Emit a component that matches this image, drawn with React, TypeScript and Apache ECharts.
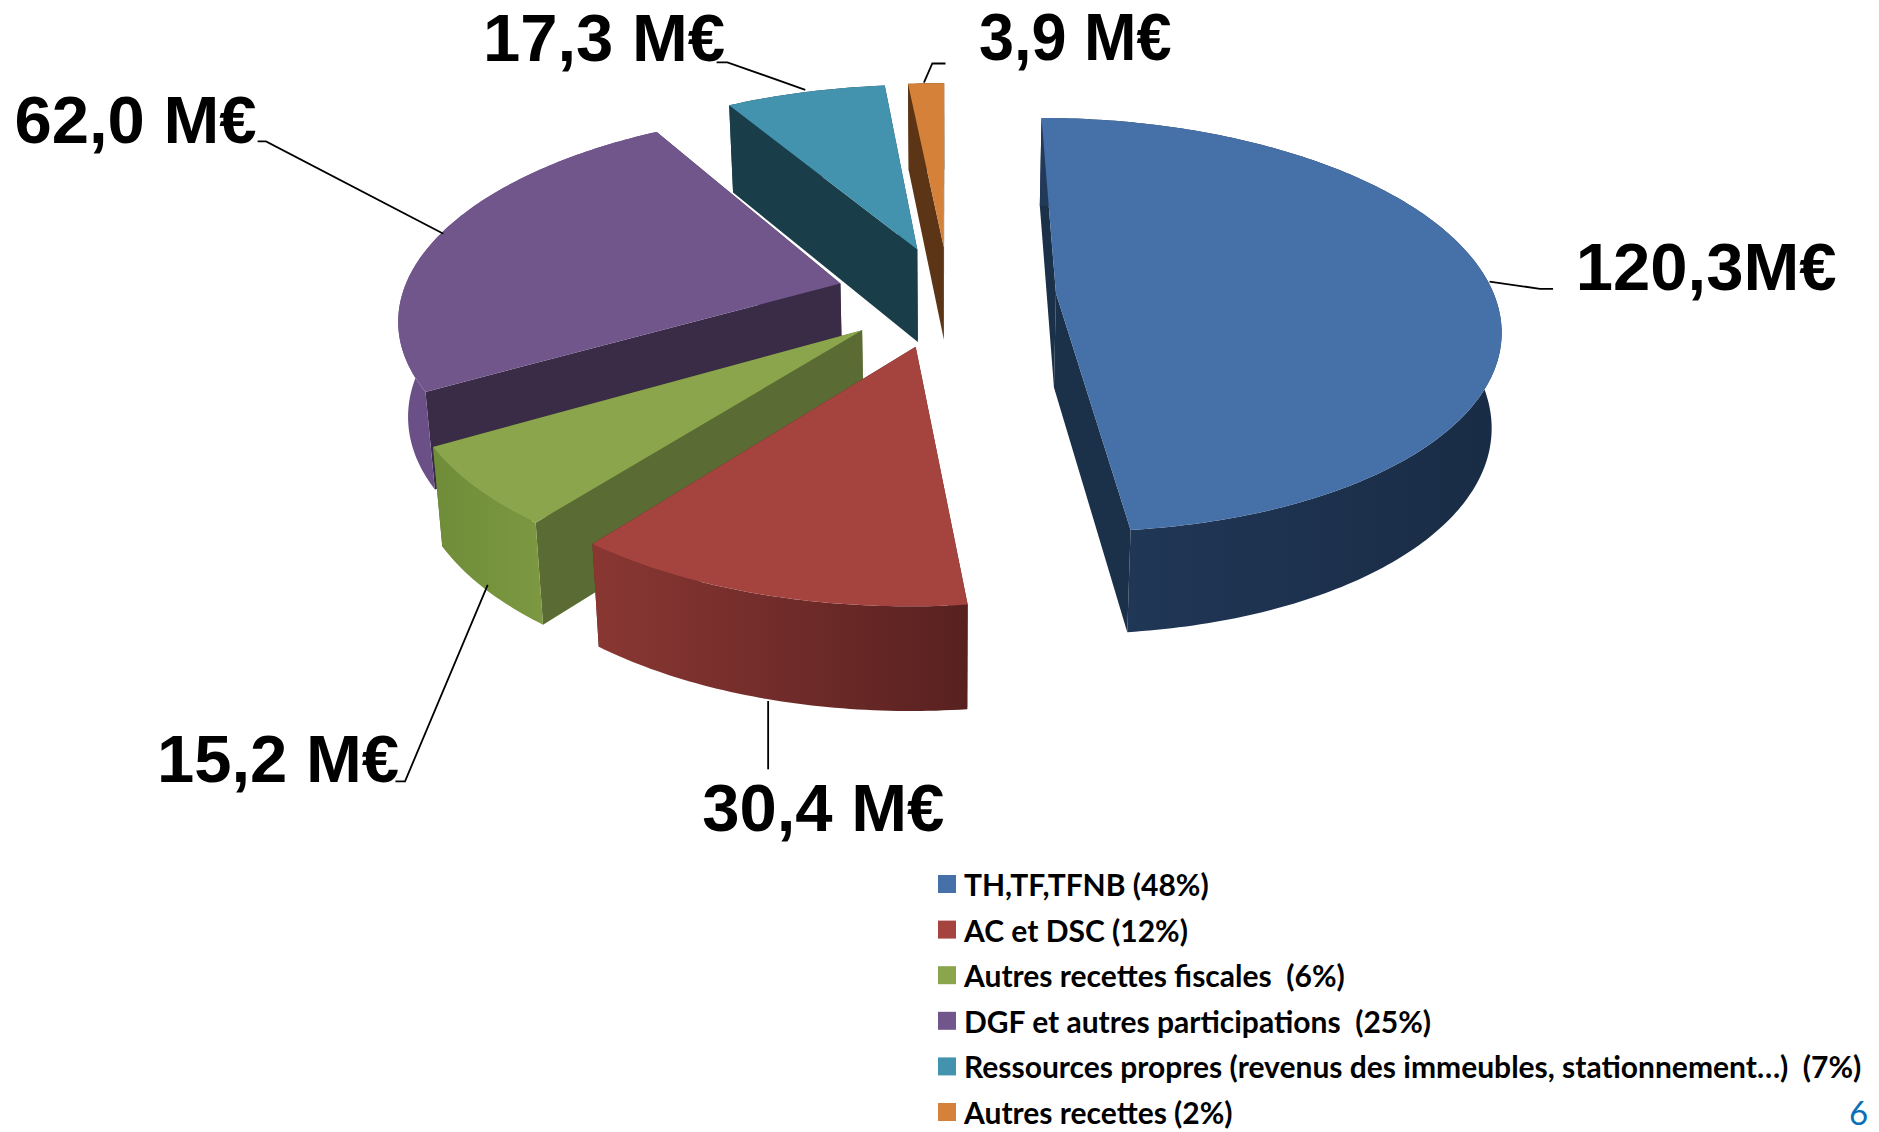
import React, { useEffect, useRef } from "react";
import * as echarts from "echarts";

const categories = [
  "TH,TF,TFNB (48%)",
  "AC et DSC (12%)",
  "Autres recettes fiscales  (6%)",
  "DGF et autres participations  (25%)",
  "Ressources propres (revenus des immeubles, stationnement…)  (7%)",
  "Autres recettes (2%)",
];
const values = [120.3, 30.4, 15.2, 62.0, 17.3, 3.9];
const valueLabels = ["120,3M€", "30,4 M€", "15,2 M€", "62,0 M€", "17,3 M€", "3,9 M€"];
const pageNumber = "6";

const topColors = ["#4570A8", "#A5433F", "#8AA54C", "#71568B", "#4393AE", "#D58139"];
const cutColors = ["#1B3049", "#5A2A26", "#5A6B33", "#3A2B47", "#1A3D4A", "#5B3515"];
const wallFrom = ["#22395A", "#8A3733", "#6F8C39", "#6A5086", "#1A3D4A", "#5B3515"];
const wallTo = ["#192C45", "#582120", "#7C9841", "#6A5086", "#1A3D4A", "#5B3515"];
const drawOrder = [6, 5, 4, 3, 2, 1];
const nudgeX = [0, 0, 0, -1, 3, 2];

// layout in a 1568 wide frame, scaled to the page
const S = 1879 / 1568;
const XC = 790, YV = -863, YH = 1092, D = 2400, R = 360, EXPLODE = 90, Y0 = -39, H = 78;

const labelBoxes = [
  [1315, 222], [586, 674], [131, 633], [12, 100], [403, 31], [817, 31],
];
const labelScaleX = [1, 1, 1, 1, 1, 0.94];
const leaders = [
  [[1296, 241], [1285, 241], [1243, 235]],
  [[641, 585], [641, 642]],
  [[407, 488], [338, 652], [330, 652]],
  [[215, 118], [222, 118], [370, 195]],
  [[598, 52], [607, 52], [672, 75]],
  [[789, 53], [778, 53], [771, 69]],
];

function project(X: number, Y: number, drop: boolean): number[] {
  const k = 1 / (1 + Y / D);
  let sx = XC + X * k;
  let sy = YV + YH * k;
  if (drop) {
    sx = XC + (sx - XC) * 0.982;
    sy += H * Math.sqrt(k);
  }
  return [sx * S, sy * S];
}

const total = values.reduce((a, b) => a + b, 0);
const starts: number[] = [];
values.reduce((a, b, i) => {
  starts[i] = a;
  return a + b;
}, 0);

function renderSlice(_p: any, api: any) {
  const i = api.value(2);
  const a0 = (api.value(1) / total) * Math.PI * 2;
  const a1 = ((api.value(1) + api.value(0)) / total) * Math.PI * 2;
  const mid = (a0 + a1) / 2;
  const ox = EXPLODE * Math.sin(mid) + nudgeX[i];
  const oy = EXPLODE * Math.cos(mid) + Y0;
  const n = Math.max(4, Math.ceil((a1 - a0) / 0.015));
  const rim: number[][] = [];
  for (let j = 0; j <= n; j++) {
    const a = a0 + ((a1 - a0) * j) / n;
    rim.push([ox + R * Math.sin(a), oy + R * Math.cos(a)]);
  }
  const topRim = rim.map((p) => project(p[0], p[1], false));
  const botRim = rim.map((p) => project(p[0], p[1], true));
  const apexT = project(ox, oy, false);
  const apexB = project(ox, oy, true);
  const cut = (t: number[], b: number[]) => ({
    type: "polygon",
    shape: { points: [apexT, t, b, apexB] },
    style: { fill: cutColors[i] },
  });
  return {
    type: "group",
    children: [
      cut(topRim[n], botRim[n]),
      cut(topRim[0], botRim[0]),
      {
        type: "polygon",
        shape: { points: [...topRim, ...botRim.slice().reverse()] },
        style: {
          fill: new echarts.graphic.LinearGradient(0, 0, 1, 0, [
            { offset: 0, color: wallFrom[i] },
            { offset: 1, color: wallTo[i] },
          ]),
        },
      },
      {
        type: "polygon",
        shape: { points: [apexT, ...topRim] },
        style: { fill: topColors[i] },
      },
    ],
  };
}

export default function App() {
  const ref = useRef<HTMLDivElement>(null);
  useEffect(() => {
    const chart = echarts.init(ref.current!, undefined, { renderer: "svg" });
    chart.setOption({
      animation: false,
      backgroundColor: "#fff",
      legend: {
        orient: "vertical",
        left: 938,
        top: 869,
        height: 260,
        padding: 0,
        data: categories,
        icon: "rect",
        itemWidth: 18,
        itemHeight: 18,
        itemGap: 15.6,
        selectedMode: false,
        textStyle: {
          fontFamily: "Lato",
          fontWeight: "bold",
          fontSize: 30,
          color: "#000",
          lineHeight: 30,
          padding: [0, 0, 0, 3],
        },
      },
      series: categories.map((name, i) => ({
        type: "custom",
        name,
        coordinateSystem: "none",
        silent: true,
        z: drawOrder[i],
        itemStyle: { color: topColors[i] },
        data: [[values[i], starts[i], i]],
        renderItem: renderSlice,
      })),
      graphic: [
        ...leaders.map((pts) => ({
          type: "polyline",
          z: 20,
          shape: { points: pts.map((p) => [p[0] * S, p[1] * S]) },
          style: { stroke: "#000", lineWidth: 1.8, fill: "none" },
        })),
        ...valueLabels.map((t, i) => ({
          type: "text",
          z: 21,
          x: labelBoxes[i][0] * S,
          y: labelBoxes[i][1] * S,
          scaleX: labelScaleX[i],
          style: {
            text: t,
            fill: "#000",
            font: 'bold 67px "Liberation Sans"',
            verticalAlign: "middle",
          },
        })),
        {
          type: "text",
          z: 21,
          x: 1849,
          y: 1112,
          style: {
            text: pageNumber,
            fill: "#0B6FB8",
            font: '33px "Lato"',
            verticalAlign: "middle",
          },
        },
      ],
    });
    return () => chart.dispose();
  }, []);
  return (
    <div
      ref={ref}
      style={{ position: "absolute", left: 0, top: 0, width: 1879, height: 1132 }}
    />
  );
}
